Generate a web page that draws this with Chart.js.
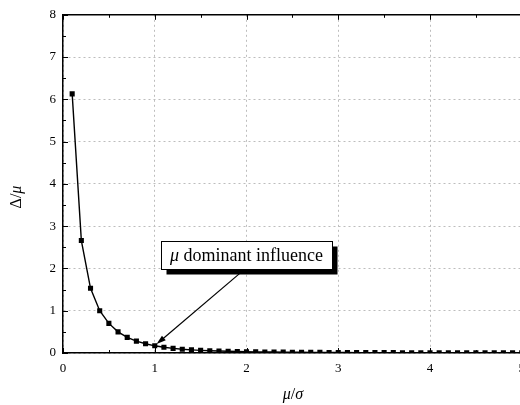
<!DOCTYPE html>
<html>
<head>
<meta charset="utf-8">
<script src="https://cdn.jsdelivr.net/npm/chart.js@4.4.1/dist/chart.umd.min.js"></script>
<style>
  html, body { margin: 0; padding: 0; background: #fff; overflow: hidden; }
  #wrap { width: 533px; height: 405px; }
</style>
</head>
<body>
<div id="wrap"><canvas id="chart" width="533" height="405"></canvas></div>
<script>
// mu/sigma along the x axis
const muOverSigma = [
  0.1, 0.2, 0.3, 0.4, 0.5, 0.6, 0.7, 0.8, 0.9, 1.0,
  1.1, 1.2, 1.3, 1.4, 1.5, 1.6, 1.7, 1.8, 1.9, 2.0,
  2.1, 2.2, 2.3, 2.4, 2.5, 2.6, 2.7, 2.8, 2.9, 3.0,
  3.1, 3.2, 3.3, 3.4, 3.5, 3.6, 3.7, 3.8, 3.9, 4.0,
  4.1, 4.2, 4.3, 4.4, 4.5, 4.6, 4.7, 4.8, 4.9, 5.0
]
// delta/mu
const deltaOverMu = [
  6.13, 2.66, 1.53, 1.00, 0.70, 0.50, 0.37, 0.28, 0.22, 0.17,
  0.135, 0.11, 0.09, 0.075, 0.063, 0.054, 0.046, 0.040, 0.035, 0.031,
  0.027, 0.024, 0.022, 0.020, 0.018, 0.016, 0.015, 0.014, 0.013, 0.012,
  0.011, 0.010, 0.0095, 0.009, 0.0085, 0.008, 0.0075, 0.007, 0.0066, 0.0062,
  0.0058, 0.0055, 0.0052, 0.0049, 0.0046, 0.0044, 0.0042, 0.0040, 0.0038, 0.0036
]
const xTicks = [0, 1, 2, 3, 4, 5]
const yTicks = [0, 1, 2, 3, 4, 5, 6, 7, 8]

const annotation = {
  text: "dominant influence",
  symbol: "\u03bc",
  boxCenter: { x: 2.0, y: 2.31 },
  arrowFrom: { x: 1.93, y: 1.89 },
  arrowTo: { x: 1.02, y: 0.21 }
}

const serif = "'Liberation Serif', 'Times New Roman', serif"

// inward tick marks, top border, axis titles and the callout box
const decorations = {
  id: "decorations",
  afterDraw(chart) {
    const { ctx, chartArea, scales } = chart
    const xs = scales.x, ys = scales.y
    ctx.save()
    ctx.strokeStyle = "#000"
    ctx.lineWidth = 1.5
    ctx.beginPath()
    ctx.moveTo(chartArea.left, chartArea.top)
    ctx.lineTo(chartArea.right, chartArea.top)
    ctx.moveTo(chartArea.right, chartArea.top)
    ctx.lineTo(chartArea.right, chartArea.bottom)
    ctx.stroke()

    ctx.lineWidth = 1
    ctx.beginPath()
    for (let v = 0; v <= 5; v += 0.5) {
      const px = Math.round(xs.getPixelForValue(v)) + 0.5
      const len = Number.isInteger(v) ? 5 : 3
      ctx.moveTo(px, chartArea.bottom)
      ctx.lineTo(px, chartArea.bottom - len)
      ctx.moveTo(px, chartArea.top)
      ctx.lineTo(px, chartArea.top + len)
    }
    for (let v = 0; v <= 8; v += 0.5) {
      const py = Math.round(ys.getPixelForValue(v)) + 0.5
      const len = Number.isInteger(v) ? 5 : 3
      ctx.moveTo(chartArea.left, py)
      ctx.lineTo(chartArea.left + len, py)
    }
    ctx.stroke()

    // x title: mu / sigma
    ctx.fillStyle = "#000"
    const xParts = [["\u03bc", "italic 16px " + serif], ["/", "16px " + serif], ["\u03c3", "italic 16px " + serif]]
    drawParts(ctx, xParts, 293, 395)

    // y title: Delta / mu, rotated
    ctx.save()
    ctx.translate(17, 197)
    ctx.rotate(-Math.PI / 2)
    const yParts = [["\u0394", "16px " + serif], ["/", "16px " + serif], ["\u03bc", "italic 16px " + serif]]
    drawParts(ctx, yParts, 0, 0)
    ctx.restore()

    // callout box with shadow
    const cx = xs.getPixelForValue(annotation.boxCenter.x)
    const cy = ys.getPixelForValue(annotation.boxCenter.y)
    const parts = [[annotation.symbol, "italic 18px " + serif], [" " + annotation.text, "18px " + serif]]
    let w = 0
    parts.forEach(p => { ctx.font = p[1]; w += ctx.measureText(p[0]).width })
    const bw = Math.round(w + 18), bh = 28
    const bx = Math.round(cx - bw / 2) + 0.5, by = Math.round(cy - bh / 2) + 0.5
    ctx.fillStyle = "#000"
    ctx.fillRect(bx + 5, by + 5, bw, bh)
    ctx.fillStyle = "#fff"
    ctx.fillRect(bx, by, bw, bh)
    ctx.strokeStyle = "#000"
    ctx.lineWidth = 1
    ctx.strokeRect(bx, by, bw, bh)
    ctx.fillStyle = "#000"
    drawParts(ctx, parts, cx, cy + 1)

    // arrow
    const x1 = xs.getPixelForValue(annotation.arrowFrom.x), y1 = ys.getPixelForValue(annotation.arrowFrom.y)
    const x2 = xs.getPixelForValue(annotation.arrowTo.x), y2 = ys.getPixelForValue(annotation.arrowTo.y)
    const ang = Math.atan2(y2 - y1, x2 - x1)
    ctx.lineWidth = 1.2
    ctx.beginPath()
    ctx.moveTo(x1, y1)
    ctx.lineTo(x2 - 6 * Math.cos(ang), y2 - 6 * Math.sin(ang))
    ctx.stroke()
    ctx.beginPath()
    ctx.moveTo(x2, y2)
    ctx.lineTo(x2 - 10 * Math.cos(ang - 0.3), y2 - 10 * Math.sin(ang - 0.3))
    ctx.lineTo(x2 - 10 * Math.cos(ang + 0.3), y2 - 10 * Math.sin(ang + 0.3))
    ctx.closePath()
    ctx.fill()
    ctx.restore()
  }
}

function drawParts(ctx, parts, centerX, centerY) {
  let total = 0
  parts.forEach(p => { ctx.font = p[1]; total += ctx.measureText(p[0]).width })
  let x = centerX - total / 2
  ctx.textAlign = "left"
  ctx.textBaseline = "middle"
  parts.forEach(p => {
    ctx.font = p[1]
    ctx.fillText(p[0], x, centerY)
    x += ctx.measureText(p[0]).width
  })
}

const gridStyle = { color: "#bdbdbd", lineWidth: 1, drawTicks: false }
const borderStyle = { color: "#000", width: 1.5, dash: [2, 3] }

new Chart(document.getElementById("chart"), {
  type: "line",
  data: {
    datasets: [{
      data: muOverSigma.map((x, i) => ({ x: x, y: deltaOverMu[i] })),
      borderColor: "#000",
      backgroundColor: "#000",
      borderWidth: 1.4,
      pointStyle: "rect",
      pointRadius: 3.6,
      pointBorderWidth: 0,
      tension: 0
    }]
  },
  options: {
    responsive: false,
    animation: false,
    layout: { padding: { top: 14, right: 7, left: 0, bottom: 0 } },
    plugins: { legend: { display: false }, tooltip: { enabled: false } },
    scales: {
      x: {
        type: "linear",
        min: 0,
        max: 5,
        grid: gridStyle,
        border: borderStyle,
        afterBuildTicks: scale => { scale.ticks = xTicks.map(v => ({ value: v })) },
        afterFit: scale => { scale.height = 52 },
        ticks: { color: "#000", padding: 8, font: { family: serif, size: 13 } }
      },
      y: {
        min: 0,
        max: 8,
        grid: gridStyle,
        border: borderStyle,
        afterBuildTicks: scale => { scale.ticks = yTicks.map(v => ({ value: v })) },
        afterFit: scale => { scale.width = 63 },
        ticks: { color: "#000", padding: 7, font: { family: serif, size: 13 } }
      }
    }
  },
  plugins: [decorations]
})
</script>
</body>
</html>
